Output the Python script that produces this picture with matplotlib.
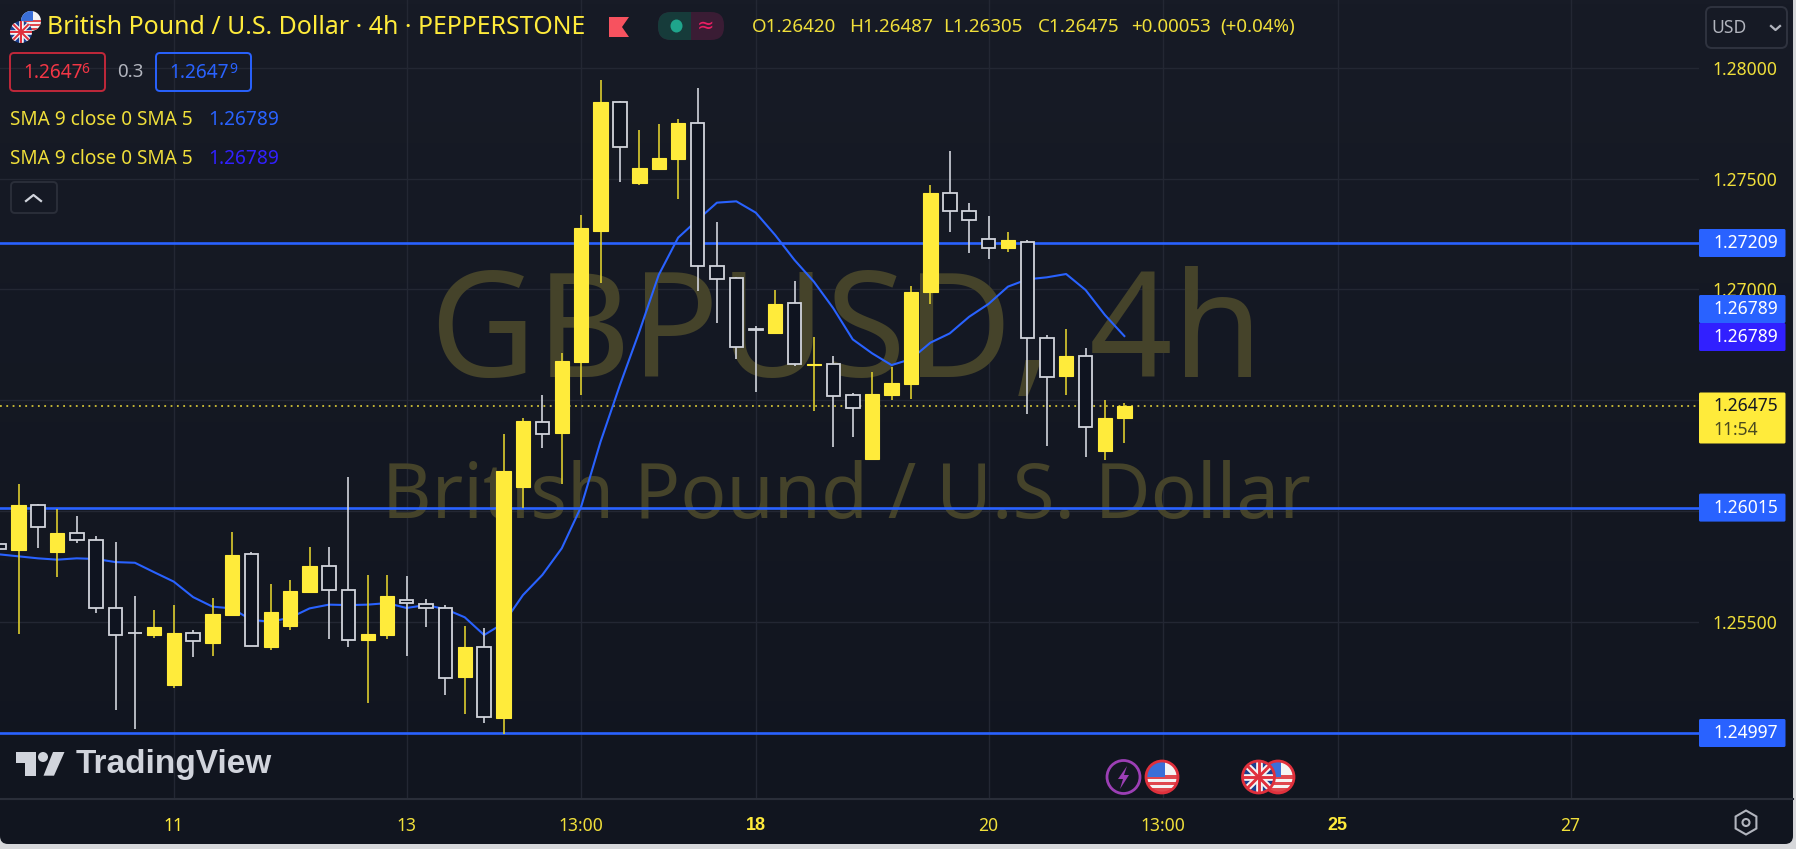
import numpy as np
import matplotlib
matplotlib.use('Agg')
from matplotlib import pyplot as plt
from matplotlib.patches import Circle, Rectangle, FancyBboxPatch, Polygon, RegularPolygon, Ellipse

plt.rcParams['font.family'] = ['Noto Sans', 'DejaVu Sans']

# candles, first one is cut off by the left edge
candle_idx = np.arange(-1, 58)
opens = [1.25852, 1.25825, 1.26025, 1.25814, 1.25899, 1.25870, 1.25562, 1.25451, 1.25440, 1.25214,
         1.25451, 1.25404, 1.25529, 1.25806, 1.25387, 1.25482, 1.25636, 1.25751, 1.25645, 1.25417,
         1.25440, 1.25596, 1.25578, 1.25562, 1.25250, 1.25384, 1.25067, 1.26109, 1.26403, 1.26353,
         1.26672, 1.27263, 1.27844, 1.27478, 1.27543, 1.27589, 1.27749, 1.27107, 1.27049, 1.26819,
         1.26801, 1.26937, 1.26660, 1.26663, 1.26521, 1.26234, 1.26523, 1.26571, 1.26986, 1.27433,
         1.27355, 1.27225, 1.27186, 1.27213, 1.26782, 1.26607, 1.26699, 1.26270, 1.26420]
highs = [1.25869, 1.26120, 1.26030, 1.26009, 1.25978, 1.25888, 1.25861, 1.25617, 1.25553, 1.25575,
         1.25463, 1.25605, 1.25906, 1.25813, 1.25672, 1.25688, 1.25837, 1.25837, 1.26154, 1.25711,
         1.25711, 1.25706, 1.25601, 1.25575, 1.25481, 1.25470, 1.26346, 1.26417, 1.26523, 1.26711,
         1.27334, 1.27944, 1.27850, 1.27720, 1.27744, 1.27767, 1.27908, 1.27304, 1.27057, 1.26836,
         1.26997, 1.27039, 1.26783, 1.26700, 1.26530, 1.26628, 1.26648, 1.27015, 1.27471, 1.27624,
         1.27388, 1.27329, 1.27257, 1.27222, 1.26795, 1.26819, 1.26737, 1.26499, 1.26487]
lows = [1.25816, 1.25446, 1.25831, 1.25700, 1.25854, 1.25541, 1.25102, 1.25014, 1.25428, 1.25202,
        1.25339, 1.25345, 1.25529, 1.25389, 1.25374, 1.25464, 1.25628, 1.25422, 1.25387, 1.25132,
        1.25422, 1.25347, 1.25476, 1.25168, 1.25085, 1.25044, 1.24995, 1.26014, 1.26285, 1.26121,
        1.26523, 1.27027, 1.27483, 1.27471, 1.27543, 1.27406, 1.26992, 1.26849, 1.26684, 1.26535,
        1.26801, 1.26655, 1.26452, 1.26287, 1.26335, 1.26234, 1.26500, 1.26506, 1.26932, 1.27259,
        1.27162, 1.27138, 1.27168, 1.26436, 1.26293, 1.26523, 1.26245, 1.26230, 1.26305]
closes = [1.25828, 1.26025, 1.25929, 1.25902, 1.25867, 1.25560, 1.25440, 1.25448, 1.25475, 1.25451,
          1.25411, 1.25533, 1.25801, 1.25389, 1.25545, 1.25640, 1.25753, 1.25643, 1.25417, 1.25445,
          1.25616, 1.25583, 1.25560, 1.25246, 1.25386, 1.25068, 1.26179, 1.26407, 1.26348, 1.26676,
          1.27275, 1.27844, 1.27644, 1.27547, 1.27594, 1.27749, 1.27105, 1.27046, 1.26738, 1.26816,
          1.26932, 1.26661, 1.26664, 1.26520, 1.26466, 1.26529, 1.26576, 1.26989, 1.27435, 1.27355,
          1.27313, 1.27188, 1.27221, 1.26782, 1.26603, 1.26700, 1.26379, 1.26421, 1.26475]
sma = [1.25804, 1.25795, 1.25786, 1.25780, 1.25786, 1.25783, 1.25769, 1.25766, 1.25723, 1.25681,
       1.25611, 1.25568, 1.25560, 1.25508, 1.25500, 1.25518, 1.25560, 1.25577, 1.25575, 1.25577,
       1.25584, 1.25562, 1.25575, 1.25557, 1.25520, 1.25440, 1.25493, 1.25620, 1.25711, 1.25831,
       1.26019, 1.26312, 1.26568, 1.26809, 1.27065, 1.27233, 1.27313, 1.27391, 1.27397, 1.27346,
       1.27245, 1.27132, 1.27034, 1.26914, 1.26774, 1.26711, 1.26658, 1.26685, 1.26759, 1.26801,
       1.26876, 1.26934, 1.27012, 1.27045, 1.27054, 1.27069, 1.26997, 1.26884, 1.26789]

levels = [1.27209, 1.26015, 1.24997]
last_price = 1.26475
price_ticks = [1.25, 1.255, 1.26, 1.265, 1.27, 1.275, 1.28]
# the other grid levels have their label hidden by a price tag
price_labels = ['', '1.25500', '', '', '1.27000', '1.27500', '1.28000']
time_ticks = [8, 20, 29, 38, 50, 59, 68, 80]
time_labels = ['11', '13', '13:00', '18', '20', '13:00', '25', '27']
ohlc_text = ['O1.26420', 'H1.26487', 'L1.26305', 'C1.26475', '+0.00053', '(+0.04%)']

YELLOW = '#ffeb3b'
TXT = '#f0df3a'
BLUE = '#2962ff'
INDIGO = '#3120ff'
WHITE = '#d1d4dc'
GRID = '#232733'

W, H = 1796, 849
fig = plt.figure(figsize=(W / 100, H / 100), dpi=100, facecolor='#d6d7da')

# background, slight gradient top to bottom
bg = fig.add_axes([0, 0, 1, 1], zorder=0)
bg.set_xlim(0, W)
bg.set_ylim(H, 0)
bg.axis('off')
grad = bg.imshow(np.linspace(0, 1, 200).reshape(-1, 1), extent=[0, 1793, 844, 0], aspect='auto',
                 cmap=matplotlib.colors.LinearSegmentedColormap.from_list('bg', ['#171b26', '#11151f']))
frame = FancyBboxPatch((0, -20), 1793, 864, boxstyle='round,pad=0,rounding_size=8', fc='none', ec='none',
                       transform=bg.transData)
bg.add_patch(frame)
grad.set_clip_path(frame)
bg.set_xlim(0, W)
bg.set_ylim(H, 0)

# price chart
ax = fig.add_axes([0, 1 - 799.3 / H, 1699 / W, 799.3 / H], zorder=1)
ax.patch.set_alpha(0)
ax.set_xlim(-0.954, 86.62)
ax.set_ylim(1.246986, 1.283055)
for s in ax.spines.values():
    s.set_visible(False)
ax.yaxis.tick_right()
ax.set_yticks(price_ticks)
ax.set_yticklabels(price_labels, color=TXT, fontsize=12.6)
ax.set_xticks(time_ticks)
ax.set_xticklabels(time_labels, color=TXT, fontsize=12.6)
# Noto Sans has no bold here, Liberation does
for lab in ax.get_xticklabels():
    if lab.get_text() in ('18', '25'):
        lab.set_family('Liberation Sans')
        lab.set_fontweight('bold')
        lab.set_fontsize(13)
        lab.set_color(YELLOW)
    if lab.get_text() == '11':
        lab.set_color(YELLOW)
ax.tick_params(axis='y', length=0, pad=10)
ax.tick_params(axis='x', length=0, pad=12.5)
ax.grid(True, color=GRID, lw=1)
ax.set_axisbelow(True)

ax.text(0.498, 1 - 377 / 799.3, 'GBPUSD, 4h', transform=ax.transAxes, ha='center', va='baseline',
        fontsize=105, color='#45432a', zorder=1)
ax.text(0.498, 1 - 518 / 799.3, 'British Pound / U.S. Dollar', transform=ax.transAxes, ha='center', va='baseline',
        fontsize=55, color='#45432a', zorder=1)

for lv in levels:
    ax.axhline(lv, color=BLUE, lw=1.9, zorder=2)
ax.axhline(last_price, color=YELLOW, lw=1.3, ls=(0, (1, 2.5)), alpha=0.8, zorder=2)
ax.plot(candle_idx, sma, color=BLUE, lw=1.5, zorder=3)

o = np.array(opens)
c = np.array(closes)
up = c >= o
ax.vlines(candle_idx[up], np.array(lows)[up], np.array(highs)[up], color='#dccc2e', lw=1.2, zorder=5)
ax.vlines(candle_idx[~up], np.array(lows)[~up], np.array(highs)[~up], color=WHITE, lw=1.2, zorder=5)
ax.bar(candle_idx[up], (c - o)[up], bottom=o[up], width=0.74, color=YELLOW, edgecolor=YELLOW, lw=0.8, zorder=6)
ax.bar(candle_idx[~up], (o - c)[~up], bottom=c[~up], width=0.7, color='#0f1420', edgecolor=WHITE, lw=1.3, zorder=6)

# everything on top, in screen pixels
ov = fig.add_axes([0, 0, 1, 1], zorder=2)
ov.patch.set_alpha(0)
ov.set_xlim(0, W)
ov.set_ylim(H, 0)
ov.axis('off')


def label(x, y, s, color=TXT, size=12.6, ha='left', **kw):
    ov.text(x, y, s, color=color, fontsize=size, ha=ha, va='center', **kw)


def uk_flag(x, y, r, ring=None):
    ov.add_patch(Circle((x, y), r, fc='#1b3f8f', ec='none', zorder=4))
    clip = Circle((x, y), r, transform=ov.transData)
    for dx, dy in [(1, 1), (1, -1), (1, 0), (0, 1)]:
        ln, = ov.plot([x - dx * r, x + dx * r], [y - dy * r, y + dy * r], color='#f4f4f4', lw=r * 0.3, zorder=5)
        ln.set_clip_path(clip)
        ln, = ov.plot([x - dx * r, x + dx * r], [y - dy * r, y + dy * r], color='#e0303c', lw=r * 0.13, zorder=6)
        ln.set_clip_path(clip)
    if ring:
        ov.add_patch(Circle((x, y), r, fc='none', ec=ring, lw=2, zorder=7))


def us_flag(x, y, r, ring=None, z=4):
    ov.add_patch(Circle((x, y), r, fc='#f4f4f4', ec='none', zorder=z))
    clip = Circle((x, y), r, transform=ov.transData)
    for k in [-0.1, 0.3, 0.7]:
        st = Rectangle((x - r, y + k * r), 2 * r, 0.22 * r, fc='#e0484f', ec='none', zorder=z)
        ov.add_patch(st)
        st.set_clip_path(clip)
    st = Rectangle((x - r, y - r), 1.2 * r, r, fc='#3a6fd8', ec='none', zorder=z)
    ov.add_patch(st)
    st.set_clip_path(clip)
    if ring:
        ov.add_patch(Circle((x, y), r, fc='none', ec=ring, lw=2, zorder=z))


# header
us_flag(31, 21, 10)
uk_flag(21, 32, 11)
label(47, 27, 'British Pound / U.S. Dollar \u00b7 4h \u00b7 PEPPERSTONE', color=YELLOW, size=17.9)
ov.add_patch(Polygon([(609, 17), (629, 17), (622, 27), (629, 37), (609, 37)], fc='#f7525f', ec='none'))
pill = FancyBboxPatch((658, 12), 66, 28, boxstyle='round,pad=0,rounding_size=13', fc='#3a1c34', ec='none', zorder=2)
ov.add_patch(pill)
cov = Rectangle((658, 12), 33, 28, fc='#163b3a', ec='none', zorder=3)
ov.add_patch(cov)
cov.set_clip_path(pill)
ov.add_patch(Ellipse((676.5, 26), 12, 13, fc='#1fa58c', ec='none', zorder=4))
label(706, 26, '\u2248', color='#e91e63', size=15, ha='center', zorder=4)
for tx, s in zip([752, 849, 943.5, 1038, 1131, 1220.5], ohlc_text):
    label(tx, 27, s, size=13.5)

# bid / ask boxes
ov.add_patch(FancyBboxPatch((10, 53), 95, 38, boxstyle='round,pad=0,rounding_size=4', fc='none', ec='#c0283a', lw=1.4))
label(23.5, 72.5, '1.2647', color='#f23645', size=13.7)
label(81.5, 69.5, '6', color='#f23645', size=10)
label(117, 72, '0.3', color='#b2b5be', size=13.5)
ov.add_patch(FancyBboxPatch((156, 53), 95, 38, boxstyle='round,pad=0,rounding_size=4', fc='none', ec=BLUE, lw=1.4))
label(169, 72.5, '1.2647', color=BLUE, size=13.7)
label(229, 69.5, '9', color=BLUE, size=10)

# indicator legend
label(10.5, 120, 'SMA 9 close 0 SMA 5', size=13.7)
label(208, 120, '1.26789', color=BLUE, size=13.8)
label(10.5, 159, 'SMA 9 close 0 SMA 5', size=13.7)
label(208, 159, '1.26789', color=INDIGO, size=13.8)
ov.add_patch(FancyBboxPatch((11, 182), 46, 31, boxstyle='round,pad=0,rounding_size=4', fc='none', ec='#2a2e39', lw=1.4))
ov.plot([26, 33.5, 41], [201, 195, 201], color='#d1d4dc', lw=1.6)

# USD button
ov.add_patch(FancyBboxPatch((1706, 7), 81, 41, boxstyle='round,pad=0,rounding_size=6', fc='none', ec='#2f333f', lw=1.4))
label(1711, 28, 'USD', color='#b2b5be', size=12.6)
ov.plot([1771, 1775.5, 1780], [26, 30, 26], color='#b2b5be', lw=1.6)

# price tags
tags = [(229, 28, BLUE, '1.27209', 'white'), (295, 28, BLUE, '1.26789', 'white'),
        (323, 28, INDIGO, '1.26789', 'white'), (493.6, 28, BLUE, '1.26015', 'white'),
        (719, 28, BLUE, '1.24997', 'white')]
for top, h, col, s, tc in tags:
    ov.add_patch(FancyBboxPatch((1699, top), 86.5, h, boxstyle='round,pad=0,rounding_size=1.5', fc=col, ec='none', zorder=3))
    label(1713, top + h / 2, s, color=tc, size=12.6, zorder=4)
ov.add_patch(FancyBboxPatch((1699, 392.5), 86.5, 51, boxstyle='round,pad=0,rounding_size=1.5', fc=YELLOW, ec='none', zorder=3))
label(1713, 406, '1.26475', color='#131722', size=12.6, zorder=4)
label(1713, 430, '11:54', color='#4a4a20', size=12.6, zorder=4)

# TradingView logo
logo = '#d1d4dc'
ov.add_patch(Polygon([(15.5, 752), (36, 752), (36, 775.7), (25, 775.7), (25, 763), (15.5, 763)], fc=logo, ec='none'))
ov.add_patch(Circle((43, 757), 5, fc=logo, ec='none'))
ov.add_patch(Polygon([(53, 752), (64.5, 752), (54, 775.7), (43.5, 775.7)], fc=logo, ec='none'))
label(76, 764, 'TradingView', color=logo, size=24, family='Liberation Sans', fontweight='bold')

# events strip
ov.add_patch(Circle((1123.5, 777), 16.5, fc='#131722', ec='#9c3fb5', lw=2))
ov.add_patch(Polygon([(1127, 766), (1118, 779), (1123, 779), (1120, 789), (1129, 775), (1124, 775)], fc='#9c3fb5', ec='none'))
us_flag(1162, 777, 16, ring='#e0303c')
us_flag(1278, 777, 16, ring='#e0303c')
uk_flag(1258.5, 777, 16, ring='#e0303c')

# bottom axis border and settings icon
ov.plot([0, 1793], [799.3, 799.3], color='#2a2e39', lw=1.5)
ov.add_patch(RegularPolygon((1746, 822.5), 6, radius=12, fc='none', ec='#b2b5be', lw=1.5))
ov.add_patch(Circle((1746, 822.5), 3.5, fc='none', ec='#b2b5be', lw=1.5))

fig.savefig('out.png', dpi=100, facecolor=fig.get_facecolor())
